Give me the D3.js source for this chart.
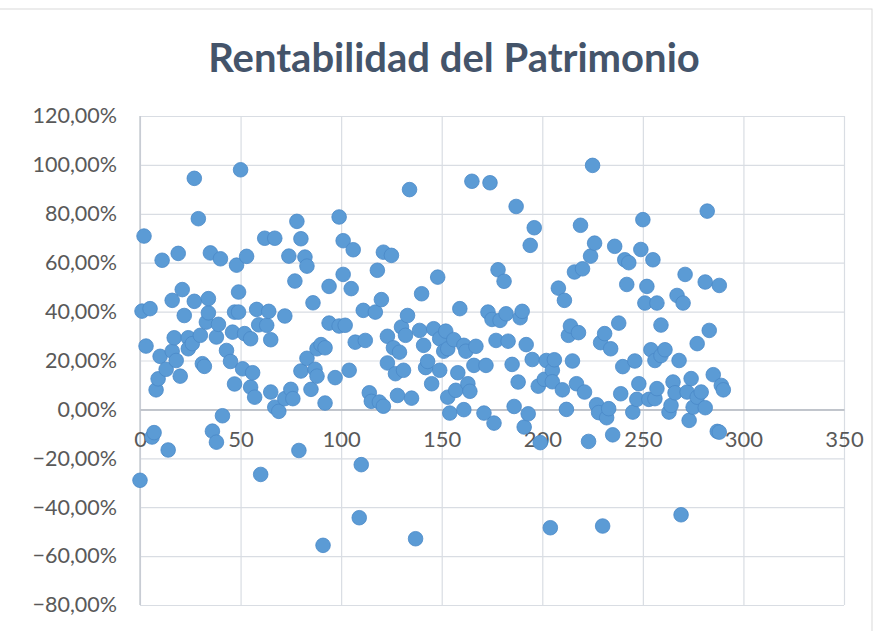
<!DOCTYPE html>
<html>
<head>
<meta charset="utf-8">
<script src="https://cdn.jsdelivr.net/npm/d3@7"></script>
<style>
  html, body { margin: 0; padding: 0; background: #fff; }
  svg { display: block; }
</style>
</head>
<body>
<div id="chart"></div>
<script>
// x = observation number, y = rentabilidad (%)
const xValues = [
  0, 1, 2, 3, 5, 6, 7, 8, 9, 10, 11, 13, 14, 16, 16, 17, 18, 19, 20, 21,
  22, 24, 24, 26, 27, 27, 29, 30, 31, 32, 33, 34, 34, 35, 36, 38, 38, 39, 40, 41,
  43, 45, 46, 47, 47, 48, 49, 49, 50, 51, 52, 53, 55, 55, 56, 57, 58, 59, 60, 62,
  63, 64, 65, 65, 67, 67, 69, 72, 72, 74, 75, 76, 77, 78, 79, 80, 80, 82, 83, 83,
  85, 86, 87, 88, 88, 90, 91, 92, 92, 94, 94, 97, 99, 99, 101, 101, 102, 104, 105, 106,
  107, 109, 110, 111, 112, 114, 115, 117, 118, 119, 120, 121, 121, 123, 123, 125, 126, 127, 128, 129,
  130, 131, 132, 133, 134, 135, 137, 139, 140, 141, 142, 143, 145, 146, 148, 149, 149, 151, 152, 153,
  153, 154, 156, 157, 158, 159, 161, 161, 162, 163, 164, 165, 166, 167, 171, 172, 173, 174, 175, 176,
  177, 178, 179, 181, 182, 183, 185, 186, 187, 188, 189, 190, 191, 192, 193, 194, 195, 196, 198, 199,
  201, 202, 204, 205, 205, 206, 208, 210, 211, 212, 213, 214, 215, 216, 217, 218, 219, 220, 221, 223,
  224, 225, 226, 227, 228, 229, 230, 231, 232, 233, 234, 235, 236, 238, 239, 240, 241, 242, 243, 245,
  246, 247, 248, 249, 250, 251, 252, 253, 254, 255, 256, 256, 257, 257, 259, 259, 261, 263, 264, 265,
  266, 267, 268, 269, 270, 271, 272, 273, 274, 275, 277, 277, 279, 281, 281, 282, 283, 285, 287, 288,
  288, 289, 290
];
const yValues = [
  -29.0, 40.2, 70.9, 25.9, 41.2, -11.3, -9.5, 8.0, 12.5, 21.7, 61.0, 16.4, -16.6, 44.6, 23.8, 29.3, 20.0, 63.8, 13.6, 49.0,
  38.4, 29.3, 24.8, 26.9, 44.2, 94.5, 78.0, 30.3, 18.7, 17.6, 35.7, 39.5, 45.3, 64.0, -8.9, 29.6, -13.4, 34.8, 61.6, -2.6,
  24.1, 19.6, 31.6, 10.4, 39.8, 59.0, 48.0, 39.8, 98.0, 16.6, 31.0, 62.6, 9.1, 28.9, 15.0, 5.0, 40.9, 34.6, -26.6, 70.0,
  34.4, 40.1, 28.5, 7.1, 70.0, 0.9, -0.8, 38.2, 4.4, 62.7, 8.2, 4.4, 52.5, 76.9, -16.8, 69.8, 15.7, 62.3, 58.6, 20.9,
  8.2, 43.6, 16.4, 13.6, 24.8, 26.5, -55.6, 25.2, 2.6, 50.3, 35.3, 13.0, 78.7, 34.1, 69.0, 55.2, 34.4, 16.0, 49.4, 65.3,
  27.5, -44.3, -22.6, 40.5, 28.2, 6.8, 3.3, 39.8, 56.9, 3.0, 44.9, 64.3, 1.3, 29.9, 19.0, 63.0, 25.2, 14.6, 5.7, 23.4,
  33.7, 16.0, 30.3, 38.4, 89.9, 4.6, -52.9, 32.3, 47.3, 26.2, 17.1, 19.6, 10.5, 33.0, 54.1, 28.9, 16.0, 23.8, 32.0, 5.0,
  24.8, -1.5, 28.5, 7.8, 15.0, 41.2, 26.2, -0.1, 23.8, 10.5, 7.4, 93.3, 18.0, 25.8, -1.5, 18.0, 39.8, 92.7, 36.8, -5.6,
  28.2, 57.1, 36.4, 52.4, 39.1, 27.9, 18.4, 1.2, 83.0, 11.2, 37.5, 40.1, -7.2, 26.5, -1.8, 67.1, 20.4, 74.3, 9.5, -13.6,
  12.3, 20.0, -48.4, 16.0, 11.3, 20.3, 49.6, 8.0, 44.6, 0.0, 30.3, 34.1, 19.8, 56.2, 10.5, 31.4, 75.3, 57.5, 7.1, -13.1,
  62.7, 99.8, 68.0, 1.9, -1.3, 27.3, -47.7, 31.0, -3.4, 0.3, 24.8, -10.4, 66.7, 35.3, 6.4, 17.5, 61.2, 51.1, 60.0, -1.1,
  19.8, 4.1, 10.5, 65.4, 77.6, 43.5, 50.3, 4.1, 24.4, 61.2, 20.0, 4.4, 43.5, 8.5, 34.5, 22.0, 24.4, -1.1, 1.6, 11.2,
  6.8, 46.6, 20.0, -43.1, 43.5, 55.2, 7.1, -4.5, 12.6, 0.9, 5.0, 26.9, 7.1, 0.7, 52.1, 81.1, 32.3, 14.2, -9.0, -9.3,
  50.7, 9.8, 8.0
];
const xTicks = [0, 50, 100, 150, 200, 250, 300, 350];
const yTicks = [-80, -60, -40, -20, 0, 20, 40, 60, 80, 100, 120];

const width = 879, height = 631;
const font = 'Lato, "Open Sans", sans-serif';

const svg = d3.select('#chart').append('svg')
  .attr('width', width)
  .attr('height', height);

// chart area (border cut off at left and bottom, like the screenshot)
svg.append('rect')
  .attr('x', -10).attr('y', 9)
  .attr('width', 882).attr('height', height + 20)
  .attr('fill', '#fff')
  .attr('stroke', '#d9d9d9')
  .attr('stroke-width', 1);

const x = d3.scaleLinear().domain([0, 350]).range([140, 844]);
const y = d3.scaleLinear().domain([-80, 120]).range([605, 116]);

// title
svg.append('text')
  .attr('x', 454)
  .attr('y', 72)
  .attr('text-anchor', 'middle')
  .attr('font-family', font)
  .attr('font-weight', 'bold')
  .attr('font-size', 40)
  .attr('fill', '#44546a')
  .text('Rentabilidad del Patrimonio');

// gridlines
svg.append('g')
  .attr('transform', 'translate(140,0)')
  .call(d3.axisLeft(y).tickValues(yTicks).tickSize(-(844 - 140)).tickFormat(''))
  .call(g => g.select('.domain').remove())
  .call(g => g.selectAll('line').attr('stroke', '#d9dde3').attr('stroke-width', 1.2));

svg.append('g')
  .attr('transform', 'translate(0,605)')
  .call(d3.axisBottom(x).tickValues(xTicks).tickSize(-(605 - 116)).tickFormat(''))
  .call(g => g.select('.domain').remove())
  .call(g => g.selectAll('line').attr('stroke', '#d9dde3').attr('stroke-width', 1.2));

// vertical axis line
svg.append('line')
  .attr('x1', x(0)).attr('x2', x(0))
  .attr('y1', y(120)).attr('y2', y(-80))
  .attr('stroke', '#bcc1c9').attr('stroke-width', 1.2);

// horizontal axis crosses at 0
const xAxis = svg.append('g')
  .attr('transform', `translate(0,${y(0)})`)
  .call(d3.axisBottom(x).tickValues(xTicks).tickSize(0).tickPadding(22).tickFormat(d => d));
xAxis.select('.domain').attr('stroke', '#b4b9c1').attr('stroke-width', 1.5);
xAxis.selectAll('text')
  .attr('font-family', font)
  .attr('font-size', 22)
  .attr('fill', '#595959');

const yAxis = svg.append('g')
  .attr('transform', `translate(${x(0)},0)`)
  .call(d3.axisLeft(y).tickValues(yTicks).tickSize(0).tickPadding(23)
    .tickFormat(d => d3.format('.2f')(d).replace('.', ',') + '%'));
yAxis.select('.domain').remove();
yAxis.selectAll('text')
  .attr('font-family', font)
  .attr('font-size', 21.5)
  .attr('fill', '#595959');

// points
const data = xValues.map((v, i) => ({ x: v, y: yValues[i] }));
svg.append('g')
  .selectAll('circle')
  .data(data)
  .enter()
  .append('circle')
  .attr('cx', d => x(d.x))
  .attr('cy', d => y(d.y))
  .attr('r', 7.3)
  .attr('fill', '#5b9bd5')
  .attr('stroke', '#4a89c8')
  .attr('stroke-width', 0.8);
</script>
</body>
</html>
